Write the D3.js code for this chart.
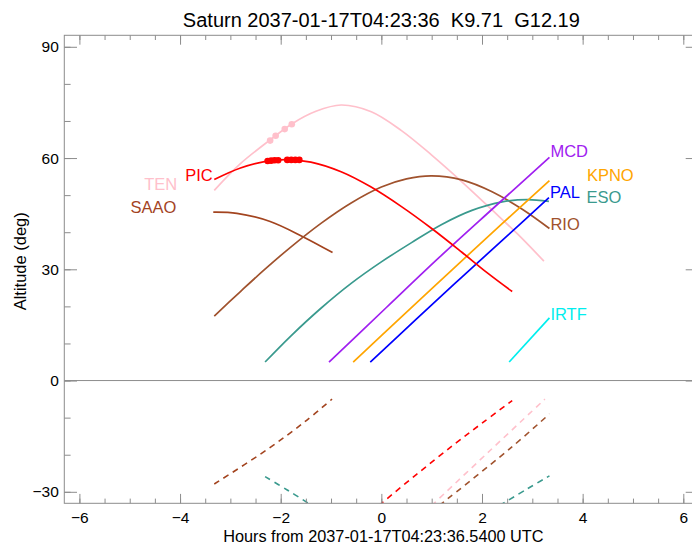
<!DOCTYPE html>
<html>
<head>
<meta charset="utf-8">
<script src="https://cdn.jsdelivr.net/npm/d3@7"></script>
<style>
body { margin: 0; background: #fff; }
svg { display: block; }
text { font-family: "Liberation Sans", Arial, Helvetica, sans-serif; }
</style>
</head>
<body>
<svg id="chart" width="692" height="543"></svg>
<script>
const title = 'Saturn 2037-01-17T04:23:36\u00a0\u00a0K9.71\u00a0\u00a0G12.19';
const xTitle = 'Hours from 2037-01-17T04:23:36.5400 UTC';
const yTitle = 'Altitude (deg)';

const hourTicks = [-6, -4, -2, 0, 2, 4, 6];
const hourMinor = d3.range(-6, 6.01, 0.5);
const altTicks = [-30, 0, 30, 60, 90];
const altMinor = d3.range(-30, 91, 10);

// solid tracks (above the limit), one pair of arrays per site
const tenHours = [-3.32, -2.8, -2.21, -1.78, -1.3, -0.8, -0.2, 0.4, 1.0, 1.6, 2.2, 2.7, 3.23];
const tenAlt = [51.3, 58.5, 64.9, 69.2, 72.6, 74.3, 72.5, 67.4, 60.8, 53.6, 46.0, 39.6, 32.2];
const picHours = [-3.32, -2.8, -2.3, -1.9, -1.4, -0.8, -0.22, 0.4, 1.0, 1.6, 2.1, 2.6];
const picAlt = [54.2, 57.3, 59.1, 59.6, 58.9, 56.3, 52.3, 46.9, 41.0, 34.6, 29.1, 24.0];
const saaoHours = [-3.34, -2.87, -2.21, -1.56, -0.97];
const saaoAlt = [45.4, 45.1, 42.9, 38.8, 34.5];
const rioHours = [-3.32, -2.8, -2.34, -1.8, -1.2, -0.6, 0, 0.5, 1.0, 1.6, 2.2, 2.8, 3.34];
const rioAlt = [17.4, 24.0, 29.7, 36.0, 42.4, 47.9, 52.2, 54.4, 55.2, 54.1, 50.9, 46.2, 41.0];
const esoHours = [-2.31, -1.8, -1.2, -0.6, 0, 0.6, 1.2, 1.8, 2.4, 2.9, 3.33];
const esoAlt = [5.0, 12.0, 19.5, 26.2, 32.0, 37.2, 42.1, 45.9, 48.2, 48.8, 48.3];
const mcdHours = [-1.04, 0.1, 1.15, 2.25, 3.34];
const mcdAlt = [5.0, 19.7, 33.2, 46.8, 60.2];
const kpnoHours = [-0.56, 0.4, 1.4, 2.4, 3.34];
const kpnoAlt = [5.0, 17.2, 29.8, 42.3, 53.9];
const palHours = [-0.22, 0.7, 1.6, 2.5, 3.33];
const palAlt = [5.0, 16.6, 27.9, 39.0, 49.3];
const irtfHours = [2.54, 3.34];
const irtfAlt = [5.0, 16.9];

// dashed tracks below the horizon
const saaoLowHours = [-3.32, -2.28, -1.52, -0.98];
const saaoLowAlt = [-27.9, -18.7, -11.1, -5.0];
const esoLowHoursA = [-2.31, -1.87, -1.45, -1.35];
const esoLowAltA = [-25.9, -29.5, -33.1, -34.0];
const picLowHours = [-0.05, 0.7, 1.43, 2.0, 2.6];
const picLowAlt = [-33.7, -25.3, -17.4, -11.5, -5.4];
const tenLowHours = [1.0, 2.15, 3.25];
const tenLowAlt = [-33.7, -19.0, -5.0];
const rioLowHours = [1.15, 2.56, 3.34];
const rioLowAlt = [-33.7, -18.3, -9.0];
const esoLowHoursB = [2.35, 2.9, 3.34];
const esoLowAltB = [-33.7, -29.2, -25.7];

// observation marks
const tenMarkHours = [-2.21, -2.10, -1.92, -1.78];
const tenMarkAlt = [64.7, 66.0, 67.8, 69.1];
const picMarkHours = [-2.26, -2.19, -2.12, -2.05, -1.87, -1.79, -1.71, -1.63];
const picMarkAlt = [59.2, 59.3, 59.4, 59.4, 59.5, 59.5, 59.5, 59.5];

const colors = {
    TEN: '#ffc0cb', PIC: '#ff0000', SAAO: '#a3441f', RIO: '#a0522d', ESO: '#3a9a8e',
    MCD: '#a020f0', KPNO: '#ffa500', PAL: '#0000ff', IRTF: '#00eeee'
};

const tracks = [
    { site: 'TEN', h: tenHours, a: tenAlt },
    { site: 'SAAO', h: saaoHours, a: saaoAlt },
    { site: 'RIO', h: rioHours, a: rioAlt },
    { site: 'ESO', h: esoHours, a: esoAlt },
    { site: 'MCD', h: mcdHours, a: mcdAlt },
    { site: 'KPNO', h: kpnoHours, a: kpnoAlt },
    { site: 'PAL', h: palHours, a: palAlt },
    { site: 'IRTF', h: irtfHours, a: irtfAlt },
    { site: 'PIC', h: picHours, a: picAlt }
];
const lowTracks = [
    { site: 'SAAO', h: saaoLowHours, a: saaoLowAlt },
    { site: 'ESO', h: esoLowHoursA, a: esoLowAltA },
    { site: 'PIC', h: picLowHours, a: picLowAlt },
    { site: 'TEN', h: tenLowHours, a: tenLowAlt },
    { site: 'RIO', h: rioLowHours, a: rioLowAlt },
    { site: 'ESO', h: esoLowHoursB, a: esoLowAltB }
];

// where each name sits relative to its track
const labelPlace = {
    TEN: { end: false, dx: -37, dy: 0 },
    PIC: { end: false, dx: -1.5, dy: 1 },
    SAAO: { end: false, dx: -37, dy: 1 },
    MCD: { end: true, dx: 1, dy: 0 },
    KPNO: { end: true, dx: 37.5, dy: 0.5 },
    PAL: { end: true, dx: 1, dy: 0.5 },
    ESO: { end: true, dx: 37.5, dy: 1.5 },
    RIO: { end: true, dx: 1, dy: 1 },
    IRTF: { end: true, dx: 1, dy: 2 }
};

const x = d3.scaleLinear().domain([-6.3, 6.3]).range([64.3, 698.4]);
const y = d3.scaleLinear().domain([-33.1, 93.1]).range([503.3, 35.3]);
const axisColor = '#8c8c8c';

const svg = d3.select('#chart');

svg.append('defs').append('clipPath').attr('id', 'plotClip')
    .append('rect')
    .attr('x', x(-6.3)).attr('y', y(93.1))
    .attr('width', x(6.3) - x(-6.3)).attr('height', y(-33.1) - y(93.1));

const line = d3.line()
    .x(d => x(d[0]))
    .y(d => y(d[1]))
    .curve(d3.curveCatmullRom.alpha(0.5));

const plot = svg.append('g').attr('clip-path', 'url(#plotClip)');

plot.append('line')
    .attr('x1', x(-6.3)).attr('x2', x(6.3))
    .attr('y1', y(0)).attr('y2', y(0))
    .attr('stroke', axisColor).attr('stroke-width', 1);

lowTracks.forEach(t => {
    plot.append('path')
        .datum(d3.zip(t.h, t.a))
        .attr('fill', 'none')
        .attr('stroke', colors[t.site])
        .attr('stroke-width', 1.6)
        .attr('stroke-dasharray', '6,5')
        .attr('d', line);
});

tracks.forEach(t => {
    plot.append('path')
        .datum(d3.zip(t.h, t.a))
        .attr('fill', 'none')
        .attr('stroke', colors[t.site])
        .attr('stroke-width', 1.7)
        .attr('d', line);
});

plot.selectAll('.tenMark')
    .data(d3.zip(tenMarkHours, tenMarkAlt))
    .join('circle')
    .attr('cx', d => x(d[0])).attr('cy', d => y(d[1]))
    .attr('r', 3.3).attr('fill', colors.TEN);

plot.selectAll('.picMark')
    .data(d3.zip(picMarkHours, picMarkAlt))
    .join('circle')
    .attr('cx', d => x(d[0])).attr('cy', d => y(d[1]))
    .attr('r', 3.3).attr('fill', colors.PIC);

// site names
tracks.forEach(t => {
    const p = labelPlace[t.site];
    const i = p.end ? t.h.length - 1 : 0;
    svg.append('text')
        .attr('x', x(t.h[i]) + p.dx)
        .attr('y', y(t.a[i]) + p.dy)
        .attr('text-anchor', p.end ? 'start' : 'end')
        .attr('fill', colors[t.site])
        .attr('font-size', 16.5)
        .text(t.site);
});

// frame and ticks
function styleAxis(g) {
    g.attr('color', axisColor);
    g.select('.domain').remove();
    g.selectAll('text').attr('fill', '#000').attr('font-size', 15.5).attr('font-family', '"Liberation Sans", Arial, sans-serif');
}

svg.append('g').attr('transform', `translate(0,${y(-33.1)})`)
    .call(d3.axisBottom(x).tickValues(hourMinor).tickFormat('').tickSizeInner(-4.7).tickSizeOuter(0))
    .call(styleAxis);
svg.append('g').attr('transform', `translate(0,${y(-33.1)})`)
    .call(d3.axisBottom(x).tickValues(hourTicks).tickSizeInner(-9.4).tickSizeOuter(0).tickPadding(9))
    .call(styleAxis);
svg.append('g').attr('transform', `translate(0,${y(93.1)})`)
    .call(d3.axisTop(x).tickValues(hourMinor).tickFormat('').tickSizeInner(-4.7).tickSizeOuter(0))
    .call(styleAxis);
svg.append('g').attr('transform', `translate(0,${y(93.1)})`)
    .call(d3.axisTop(x).tickValues(hourTicks).tickFormat('').tickSizeInner(-9.4).tickSizeOuter(0))
    .call(styleAxis);

svg.append('g').attr('transform', `translate(${x(-6.3)},0)`)
    .call(d3.axisLeft(y).tickValues(altMinor).tickFormat('').tickSizeInner(-6.3).tickSizeOuter(0))
    .call(styleAxis);
svg.append('g').attr('transform', `translate(${x(-6.3)},0)`)
    .call(d3.axisLeft(y).tickValues(altTicks).tickSizeInner(-12.7).tickSizeOuter(0).tickPadding(5.5))
    .call(styleAxis);
svg.append('g').attr('transform', `translate(${x(6.3)},0)`)
    .call(d3.axisRight(y).tickValues(altMinor).tickFormat('').tickSizeInner(-6.3).tickSizeOuter(0))
    .call(styleAxis);
svg.append('g').attr('transform', `translate(${x(6.3)},0)`)
    .call(d3.axisRight(y).tickValues(altTicks).tickFormat('').tickSizeInner(-12.7).tickSizeOuter(0))
    .call(styleAxis);

svg.append('rect')
    .attr('x', x(-6.3)).attr('y', y(93.1))
    .attr('width', x(6.3) - x(-6.3)).attr('height', y(-33.1) - y(93.1))
    .attr('fill', 'none').attr('stroke', axisColor).attr('stroke-width', 1);

// titles
svg.append('text')
    .attr('x', x(0)).attr('y', 27)
    .attr('text-anchor', 'middle').attr('font-size', 20).attr('fill', '#000')
    .text(title);

svg.append('text')
    .attr('x', x(0) + 2).attr('y', 541.5)
    .attr('text-anchor', 'middle').attr('font-size', 16.3).attr('fill', '#000')
    .text(xTitle);

svg.append('text')
    .attr('transform', `translate(26,${(y(93.1) + y(-33.1)) / 2 - 8}) rotate(-90)`)
    .attr('text-anchor', 'middle').attr('font-size', 16.5).attr('fill', '#000')
    .text(yTitle);
</script>
</body>
</html>
